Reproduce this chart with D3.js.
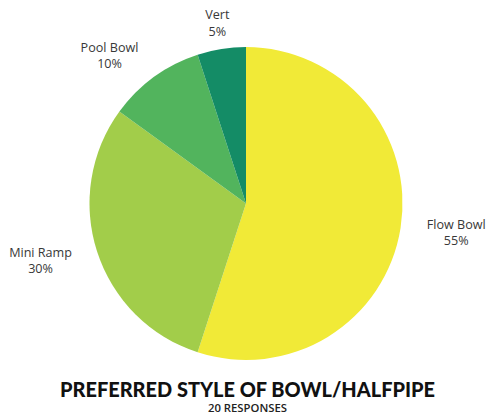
<!DOCTYPE html>
<html>
<head>
<meta charset="utf-8">
<script src="https://cdn.jsdelivr.net/npm/d3@7"></script>
<style>
  html, body { margin: 0; padding: 0; background: #ffffff; }
  svg { display: block; }
</style>
</head>
<body>
<script>
// Survey answers: preferred style of bowl / halfpipe
const categories = ["Flow Bowl", "Mini Ramp", "Pool Bowl", "Vert"];
const percentages = [55, 30, 10, 5];
const sliceColors = ["#F1EA37", "#A2CD4A", "#52B45D", "#148C66"];
const titleText = "PREFERRED STYLE OF BOWL/HALFPIPE";
const subtitleText = "20 RESPONSES";

const W = 487, H = 414;
const cx = 246, cy = 203.5, R = 156.5;

const svg = d3.select("body").append("svg")
  .attr("width", W).attr("height", H);

const data = categories.map((c, i) => ({ name: c, value: percentages[i], color: sliceColors[i] }));

const pie = d3.pie().value(d => d.value).sort(null);
const arc = d3.arc().innerRadius(0).outerRadius(R);
const labelArc = d3.arc().innerRadius(183).outerRadius(183);

const g = svg.append("g").attr("transform", `translate(${cx},${cy})`);
const arcs = pie(data);

g.selectAll("path.slice")
  .data(arcs)
  .join("path")
  .attr("class", "slice")
  .attr("d", arc)
  .attr("fill", d => d.data.color);

// Outside labels: name on the first line, percentage centred below it
g.selectAll("g.lbl")
  .data(arcs)
  .join("g")
  .attr("class", "lbl")
  .each(function(d) {
    const [x, y] = labelArc.centroid(d);
    const mid = (d.startAngle + d.endAngle) / 2;
    const s = Math.sin(mid);
    const grp = d3.select(this);
    const name = grp.append("text")
      .attr("font-family", "'Open Sans', 'Noto Sans', sans-serif")
      .attr("font-size", 12.6)
      .attr("fill", "#383838")
      .attr("text-anchor", "middle")
      .text(d.data.name);
    const w = name.node().getComputedTextLength();
    const centerX = Math.abs(s) < 0.3 ? x : (s > 0 ? x + w / 2 : x - w / 2);
    name.attr("x", centerX).attr("y", y - 3.5);
    grp.append("text")
      .attr("font-family", "'Open Sans', 'Noto Sans', sans-serif")
      .attr("font-size", 12.6)
      .attr("fill", "#383838")
      .attr("text-anchor", "middle")
      .attr("x", centerX).attr("y", y + 13)
      .text(d.data.value + "%");
  });

svg.append("text")
  .attr("x", 247.5).attr("y", 396.5)
  .attr("text-anchor", "middle")
  .attr("font-family", "Lato, 'Noto Sans', sans-serif")
  .attr("font-weight", 900)
  .attr("font-size", 20.5)
  .attr("fill", "#111111")
  .attr("textLength", 375)
  .attr("lengthAdjust", "spacingAndGlyphs")
  .text(titleText);

svg.append("text")
  .attr("x", 247.5).attr("y", 411.5)
  .attr("text-anchor", "middle")
  .attr("font-family", "'Open Sans', 'Noto Sans', sans-serif")
  .attr("font-weight", 600)
  .attr("font-size", 10.5)
  .attr("fill", "#222222")
  .attr("textLength", 79)
  .attr("lengthAdjust", "spacingAndGlyphs")
  .text(subtitleText);
</script>
</body>
</html>
